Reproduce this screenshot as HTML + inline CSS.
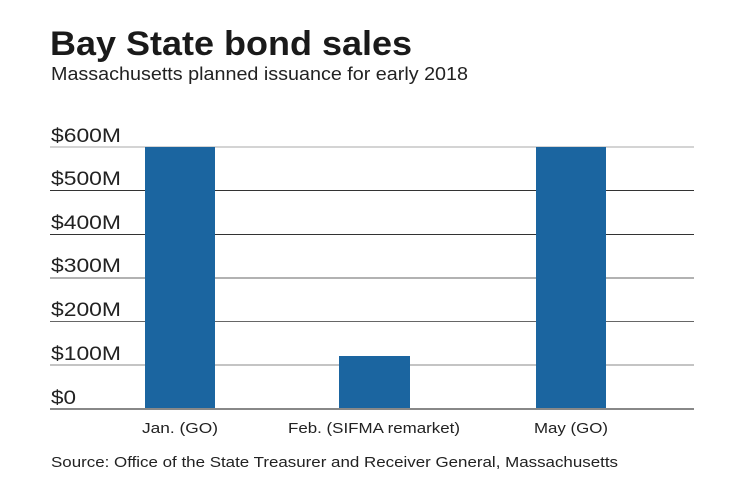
<!DOCTYPE html>
<html><head><style>
body{margin:0;background:#fff;width:740px;height:482px;overflow:hidden;font-family:"Liberation Sans",sans-serif;}
</style></head><body>
<svg width="740" height="482" xmlns="http://www.w3.org/2000/svg" font-family="Liberation Sans, sans-serif">
<text x="50" y="55" font-size="34" font-weight="bold" fill="#1a1a1a" textLength="362" lengthAdjust="spacingAndGlyphs">Bay State bond sales</text>
<text x="51" y="80" font-size="18" fill="#222" textLength="417" lengthAdjust="spacingAndGlyphs">Massachusetts planned issuance for early 2018</text>
<g stroke-width="1">
<line x1="50" x2="694" y1="147" y2="147" stroke="#aaa"/>
<line x1="50" x2="694" y1="190.5" y2="190.5" stroke="#333"/>
<line x1="50" x2="694" y1="234.5" y2="234.5" stroke="#333"/>
<line x1="50" x2="694" y1="278" y2="278" stroke="#666"/>
<line x1="50" x2="694" y1="321.5" y2="321.5" stroke="#666"/>
<line x1="50" x2="694" y1="365" y2="365" stroke="#888"/>
</g>
<rect x="145" y="147" width="70" height="262" fill="#1b65a0"/>
<rect x="339" y="356" width="71" height="53" fill="#1b65a0"/>
<rect x="536" y="147" width="70" height="262" fill="#1b65a0"/>
<line x1="50" x2="694" y1="409" y2="409" stroke="#888" stroke-width="2"/>
<g font-size="19" fill="#222">
<text x="51" y="142" textLength="70" lengthAdjust="spacingAndGlyphs">$600M</text>
<text x="51" y="185" textLength="70" lengthAdjust="spacingAndGlyphs">$500M</text>
<text x="51" y="229" textLength="70" lengthAdjust="spacingAndGlyphs">$400M</text>
<text x="51" y="272" textLength="70" lengthAdjust="spacingAndGlyphs">$300M</text>
<text x="51" y="316" textLength="70" lengthAdjust="spacingAndGlyphs">$200M</text>
<text x="51" y="360" textLength="70" lengthAdjust="spacingAndGlyphs">$100M</text>
<text x="51" y="404" textLength="25" lengthAdjust="spacingAndGlyphs">$0</text>
</g>
<g font-size="15" fill="#222" text-anchor="middle">
<text x="180" y="433" textLength="76" lengthAdjust="spacingAndGlyphs">Jan. (GO)</text>
<text x="374" y="433" textLength="172" lengthAdjust="spacingAndGlyphs">Feb. (SIFMA remarket)</text>
<text x="571" y="433" textLength="74" lengthAdjust="spacingAndGlyphs">May (GO)</text>
</g>
<text x="51" y="467" font-size="15" fill="#222" textLength="567" lengthAdjust="spacingAndGlyphs">Source: Office of the State Treasurer and Receiver General, Massachusetts</text>
</svg>
</body></html>
